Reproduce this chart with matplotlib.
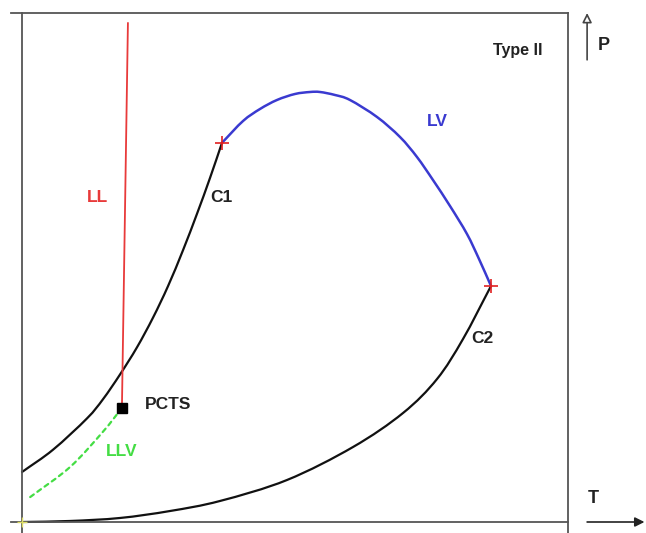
import numpy as np
import matplotlib.pyplot as plt
from matplotlib.path import Path
from matplotlib.patches import PathPatch

# ---------------- data (T, P in arbitrary units) ----------------
# vapour pressure curve of component 1 up to its critical point C1
c1_T = [0, 5.68, 11.90, 14.84, 17.95, 21.06, 23.99, 26.74, 29.49, 32.05, 34.43, 36.63]
c1_P = [9.82, 14.20, 20.35, 24.13, 28.98, 34.32, 40.14, 46.33, 53.40, 60.55, 67.58, 74.50]
# vapour pressure curve of component 2 up to C2
c2_T = [0, 8.79, 17.95, 27.11, 36.26, 48.53, 60.62, 69.78, 76.01, 80.77, 85.90]
c2_P = [0, 0.20, 0.79, 2.16, 4.13, 8.25, 14.73, 21.41, 28.09, 35.95, 46.37]
# critical locus liquid-vapour between C1 and C2
lv_T = [36.63, 40.48, 43.59, 46.70, 50.00, 52.75, 54.58, 57.33, 60.07, 65.02,
        69.23, 72.34, 75.27, 78.39, 81.50, 83.70, 85.90]
lv_P = [74.50, 78.78, 81.14, 82.91, 84.09, 84.48, 84.48, 83.89, 82.91, 79.57,
        75.64, 71.71, 67.19, 62.08, 56.58, 51.67, 46.37]
# liquid-liquid critical line, ends at PCTS
ll_T = [19.4, 18.3]
ll_P = [98.0, 22.4]
# three phase line LLV
llv_T = [1.5, 8.8, 14.8, 18.3]
llv_P = [4.9, 10.8, 17.7, 22.4]
pcts = (18.3, 22.4)
crit_T = [36.63, 85.90]
crit_P = [74.50, 46.37]


def smooth_path(xs, ys):
    # cubic bezier segments through the points (catmull-rom tangents)
    p = np.column_stack([xs, ys]).astype(float)
    verts = [p[0]]
    codes = [Path.MOVETO]
    for i in range(len(p) - 1):
        d0 = (p[i + 1] - p[i - 1]) / 6 if i > 0 else (p[i + 1] - p[i]) / 3
        d1 = (p[i + 2] - p[i]) / 6 if i + 2 < len(p) else (p[i + 1] - p[i]) / 3
        verts += [p[i] + d0, p[i + 1] - d1, p[i + 1]]
        codes += [Path.CURVE4] * 3
    return Path(verts, codes)


def curve(ax, xs, ys, **kw):
    ax.add_patch(PathPatch(smooth_path(xs, ys), fill=False, capstyle='round', **kw))


plt.rcParams['font.family'] = ['Liberation Sans', 'DejaVu Sans']
fig = plt.figure(figsize=(6.46, 5.33), dpi=100)
ax = fig.add_axes([22/646, 11/533, 546/646, 509/533])
ax.set_xlim(0, 100)
ax.set_ylim(0, 100)
ax.axis('off')

frame = '#555555'
tr = ax.transAxes
# frame lines, slightly overshooting at the corners
ax.plot([-0.02, 1], [1, 1], color=frame, lw=1.3, transform=tr, clip_on=False)
ax.plot([-0.02, 1], [0, 0], color=frame, lw=1.3, transform=tr, clip_on=False)
ax.plot([0, 0], [-0.022, 1], color=frame, lw=1.3, transform=tr, clip_on=False)
ax.plot([1, 1], [-0.022, 1], color=frame, lw=1.3, transform=tr, clip_on=False)

# curves
curve(ax, c2_T, c2_P, edgecolor='#111111', lw=1.6, clip_on=False)
curve(ax, c1_T, c1_P, edgecolor='#111111', lw=1.6, clip_on=False)
curve(ax, lv_T, lv_P, edgecolor='#3a3ad0', lw=1.8)
ax.plot(ll_T, ll_P, color='#e83a3a', lw=1.3)
curve(ax, llv_T, llv_P, edgecolor='#44dd44', lw=1.6, ls=(0, (2, 2)))
ax.plot(*pcts, marker='s', color='black', ms=7)
ax.plot(crit_T, crit_P, ls='none', marker='+', color='#e02020', ms=10, mew=1.2)
ax.plot(0, 0, marker='+', color='#dddd66', ms=7, clip_on=False)

# labels
bold = dict(fontsize=12.5, fontweight='bold', ha='center', va='center')
ax.text(13.9, 63.8, 'LL', color='#e83a3a', **bold)
ax.text(36.6, 63.8, 'C1', color='#222222', **bold)
ax.text(76.0, 78.6, 'LV', color='#3a3ad0', **bold)
ax.text(84.4, 36.1, 'C2', color='#222222', **bold)
ax.text(26.7, 23.0, 'PCTS', color='#222222', **bold)
ax.text(18.3, 13.8, 'LLV', color='#44dd44', **bold)
ax.text(90.8, 92.7, 'Type II', color='#222222', fontsize=11.5, fontweight='bold',
        ha='center', va='center')

# P and T axis arrows outside the frame
ax.annotate('', xy=(1.035, 1.0), xytext=(1.035, 0.908), xycoords=tr,
            arrowprops=dict(arrowstyle='-|>', fc='white', ec='#444444', lw=1.2,
                            mutation_scale=14, shrinkA=0, shrinkB=0))
ax.annotate('', xy=(1.14, 0.0), xytext=(1.035, 0.0), xycoords=tr,
            arrowprops=dict(arrowstyle='-|>', fc='#222222', ec='#222222', lw=1.2,
                            mutation_scale=14, shrinkA=0, shrinkB=0))
ax.text(1.066, 0.937, 'P', transform=tr, fontsize=13, fontweight='bold',
        color='#222222', ha='center', va='center')
ax.text(1.046, 0.047, 'T', transform=tr, fontsize=13, fontweight='bold',
        color='#222222', ha='center', va='center')

fig.savefig('out.png', dpi=100)
